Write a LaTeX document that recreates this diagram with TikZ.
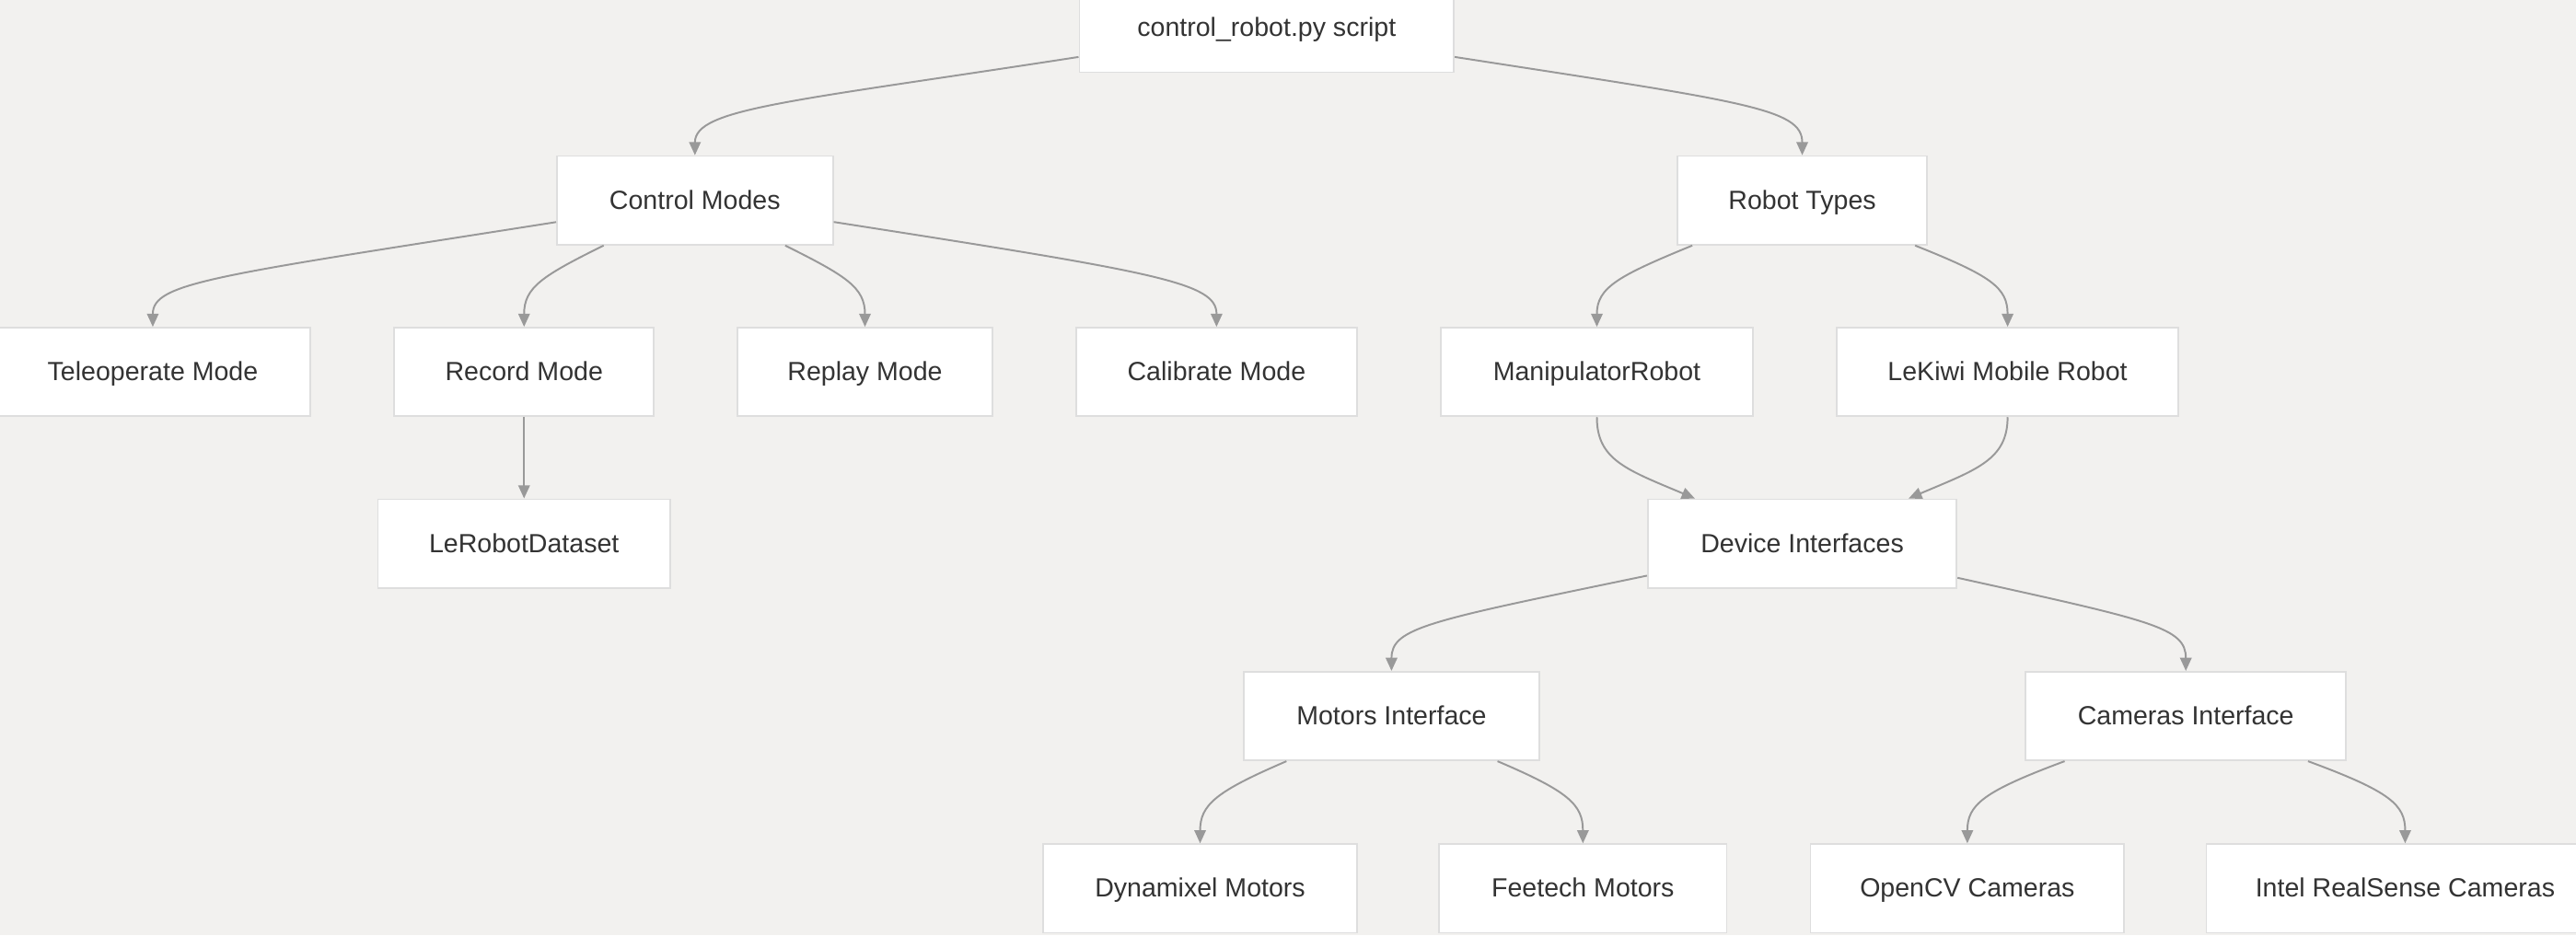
\documentclass[tikz,border=0pt]{standalone}
\usepackage{fontspec}
\setmainfont{Liberation Sans}
\usetikzlibrary{arrows.meta}
\definecolor{bg}{HTML}{F2F1EF}
\definecolor{bx}{HTML}{DEDEDE}
\definecolor{ed}{HTML}{999999}
\definecolor{tx}{HTML}{333333}
\begin{document}
\begin{tikzpicture}[x=1pt,y=-1pt,
  box/.style={draw=bx, line width=1pt, fill=white, minimum height=54pt, inner sep=0pt,
    text height=11.5pt, text depth=1pt,
    font=\fontsize{16}{19}\selectfont, text=tx},
  link/.style={draw=ed, line width=1.1pt, -{Triangle[length=8pt,width=7pt]}}]
\fill[bg] (0,0) rectangle (1568,569.4);
\useasboundingbox (0,0) rectangle (1568,569.4);
% nodes
\node[box, minimum width=228pt] (root) at (771,17) {control\_robot.py script};
\node[box, minimum width=168pt] (cm) at (423,122) {Control Modes};
\node[box, minimum width=152pt] (rt) at (1097,122) {Robot Types};
\node[box, minimum width=192pt] (tele) at (93,226.5) {Teleoperate Mode};
\node[box, minimum width=158pt] (rec) at (319,226.5) {Record Mode};
\node[box, minimum width=155pt] (rep) at (526.5,226.5) {Replay Mode};
\node[box, minimum width=171pt] (cal) at (740.5,226.5) {Calibrate Mode};
\node[box, minimum width=190pt] (man) at (972,226.5) {ManipulatorRobot};
\node[box, minimum width=208pt] (lek) at (1222,226.5) {LeKiwi Mobile Robot};
\node[box, minimum width=178pt] (ds) at (319,331) {LeRobotDataset};
\node[box, minimum width=188pt] (dev) at (1097,331) {Device Interfaces};
\node[box, minimum width=180pt] (mot) at (847,436) {Motors Interface};
\node[box, minimum width=195pt] (cam) at (1330.5,436) {Cameras Interface};
\node[box, minimum width=191pt] (dyn) at (730.5,541) {Dynamixel Motors};
\node[box, minimum width=175pt] (fee) at (963.5,541) {Feetech Motors};
\node[box, minimum width=191pt] (ocv) at (1197.5,541) {OpenCV Cameras};
\node[box, minimum width=242pt] (rs) at (1464,541) {Intel RealSense Cameras};
% edges
\draw[link] (root) .. controls (480,62) and (423,66) .. (cm);
\draw[link] (root) .. controls (1062,62) and (1097,66) .. (rt);
\draw[link] (cm) .. controls (130,168) and (93,172) .. (tele);
\draw[link] (cm) .. controls (330,168) and (319,175) .. (rec);
\draw[link] (cm) .. controls (515,168) and (526.5,175) .. (rep);
\draw[link] (cm) .. controls (705,166) and (740.5,172) .. (cal);
\draw[link] (rt) .. controls (985,168) and (972,175) .. (man);
\draw[link] (rt) .. controls (1212,168) and (1222,175) .. (lek);
\draw[link] (rec) -- (ds);
\draw[link] (man) .. controls (972,280) and (990,286) .. (dev);
\draw[link] (lek) .. controls (1222,280) and (1203,286) .. (dev);
\draw[link] (dev) .. controls (870,378) and (847,382) .. (mot);
\draw[link] (dev) .. controls (1310,378) and (1330.5,382) .. (cam);
\draw[link] (mot) .. controls (740,482) and (730.5,490) .. (dyn);
\draw[link] (mot) .. controls (955,482) and (963.5,490) .. (fee);
\draw[link] (cam) .. controls (1207,482) and (1197.5,490) .. (ocv);
\draw[link] (cam) .. controls (1455,482) and (1464,490) .. (rs);
\end{tikzpicture}
\end{document}
